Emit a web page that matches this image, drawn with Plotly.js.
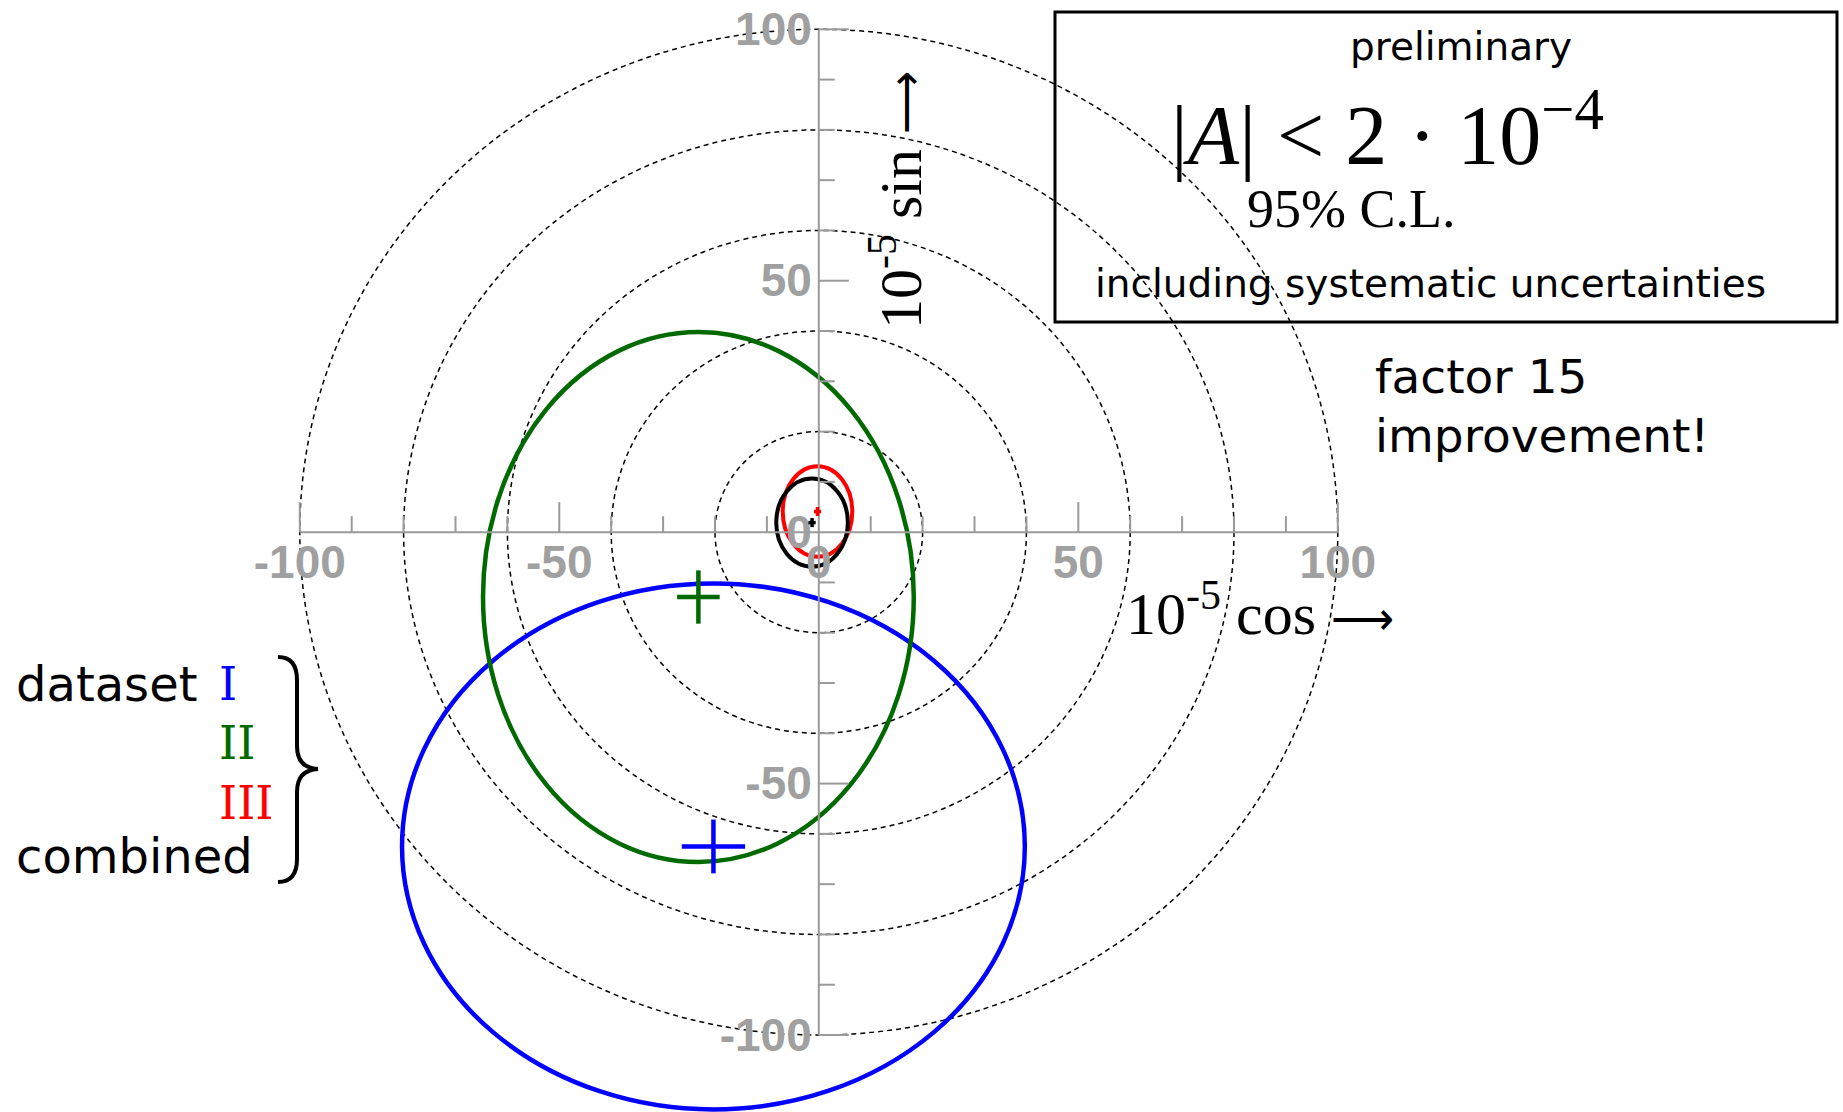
<!DOCTYPE html>
<html>
<head>
<meta charset="utf-8">
<script src="https://cdn.plot.ly/plotly-3.0.1.min.js"></script>
<style>
html,body{margin:0;padding:0;background:#ffffff;}
#chart{width:1843px;height:1112px;}
</style>
</head>
<body>
<div id="chart"></div>
<script>
// ---------------- data ----------------
const datasets   = ['I', 'II', 'III', 'combined'];
const setColors  = ['#0000ff', '#006a00', '#ff0000', '#000000'];
// centre of each 95% C.L. region (units of 1e-5)
const centerCos  = [-20.3, -23.2, -0.25, -1.3];
const centerSin  = [-62.5, -12.9, 4.1, 1.9];
// semi-axes of each region
const semiCos    = [60.0, 41.5, 6.7, 6.9];
const semiSin    = [52.3, 52.7, 9.0, 8.75];
// half-lengths of the cross marks
const crossCos   = [6.1, 4.1, 0.7, 0.7];
const crossSin   = [5.35, 5.3, 0.9, 0.9];
// reference circles and axis ticks
const circleRadii = [20, 40, 60, 80, 100];
const tickVals    = [-100, -90, -80, -70, -60, -50, -40, -30, -20, -10, 10, 20, 30, 40, 50, 60, 70, 80, 90, 100];
const majorTicks  = [-100, -50, 50, 100];
const labelVals   = [-100, -50, 0, 50, 100];
const labelText   = ['-100', '-50', '0', '50', '100'];

// ---------------- layout geometry ----------------
const W = 1843, H = 1112;
const X0PX = 818.8, XPPU = 5.19;     // pixel of cos=0, pixels per unit
const Y0PX = 532.15, YPPU = 5.0285;  // pixel of sin=0, pixels per unit
const xRange = [-X0PX / XPPU, (W - X0PX) / XPPU];
const yRange = [(Y0PX - H) / YPPU, Y0PX / YPPU];
const px = v => v / W;
const py = v => 1 - v / H;

const gray = '#9a9a9a';
const labelGray = '#a0a0a0';

const traces = [];

// axis lines
traces.push({
  type: 'scatter', mode: 'lines', hoverinfo: 'skip', showlegend: false,
  x: [-100, 100, null, 0, 0], y: [0, 0, null, -100, 100],
  line: {color: gray, width: 2}
});

// ticks
const tx = [], ty = [];
tickVals.forEach(v => {
  const len = majorTicks.includes(v) ? 30 : 16;
  tx.push(v, v, null); ty.push(0, len / YPPU, null);       // on cos axis (upwards)
  tx.push(0, len / XPPU, null); ty.push(v, v, null);       // on sin axis (rightwards)
});
traces.push({
  type: 'scatter', mode: 'lines', hoverinfo: 'skip', showlegend: false,
  x: tx, y: ty, line: {color: gray, width: 2}
});

// tick labels
const labelFont = {family: 'Liberation Sans, Arial, sans-serif', size: 46, color: labelGray, weight: 'bold'};
traces.push({
  type: 'scatter', mode: 'text', hoverinfo: 'skip', showlegend: false,
  x: labelVals, y: labelVals.map(() => -34 / YPPU),
  text: labelText, textposition: 'middle center', textfont: labelFont
});
traces.push({
  type: 'scatter', mode: 'text', hoverinfo: 'skip', showlegend: false,
  x: labelVals.map(() => -7 / XPPU), y: labelVals.map(v => v - 4 / YPPU),
  text: labelText, textposition: 'middle left', textfont: labelFont
});

// cross marks at the centres
datasets.forEach((d, i) => {
  const big = i < 2;
  traces.push({
    type: 'scatter', mode: 'markers', name: d, showlegend: false,
    x: [centerCos[i]], y: [centerSin[i]],
    marker: {size: 1, color: setColors[i], opacity: 0},
    error_x: {type: 'data', array: [crossCos[i]], symmetric: true, color: setColors[i], thickness: big ? 4.5 : 3.5, width: 0},
    error_y: {type: 'data', array: [crossSin[i]], symmetric: true, color: setColors[i], thickness: big ? 4.5 : 3.5, width: 0}
  });
});

// shapes
const shapes = [];
circleRadii.forEach(r => {
  shapes.push({
    type: 'circle', xref: 'x', yref: 'y', layer: 'below',
    x0: -r, x1: r, y0: -r, y1: r,
    line: {color: '#000000', width: 1.5, dash: '5px,4px'}
  });
});
datasets.forEach((d, i) => {
  shapes.push({
    type: 'circle', xref: 'x', yref: 'y', layer: 'between',
    x0: centerCos[i] - semiCos[i], x1: centerCos[i] + semiCos[i],
    y0: centerSin[i] - semiSin[i], y1: centerSin[i] + semiSin[i],
    line: {color: setColors[i], width: i < 2 ? 4.5 : 4}
  });
});
// result box
shapes.push({
  type: 'rect', xref: 'paper', yref: 'paper',
  x0: px(1055), x1: px(1837), y0: py(12), y1: py(322),
  line: {color: '#000000', width: 3}, fillcolor: 'rgba(0,0,0,0)'
});
// curly brace
const bracePts = [
  ['M', 278, 657], ['Q', 297, 657, 297, 680], ['L', 297, 746], ['Q', 297, 768, 318, 769],
  ['Q', 297, 770, 297, 792], ['L', 297, 859], ['Q', 297, 882, 278, 882]
];
const bracePath = bracePts.map(s => {
  const c = s[0]; const nums = s.slice(1); const out = [];
  for (let k = 0; k < nums.length; k += 2) out.push(px(nums[k]) + ',' + py(nums[k + 1]));
  return c + out.join(' ');
}).join(' ');
shapes.push({
  type: 'path', xref: 'paper', yref: 'paper', path: bracePath,
  line: {color: '#000000', width: 4}
});

// annotations
const sans = 'DejaVu Sans, Verdana, sans-serif';
const serif = 'Liberation Serif, Times New Roman, serif';
const longArrow = '<span style="font-size:44px">⟶</span>';
function ann(text, x, y, opts) {
  return Object.assign({
    text: text, xref: 'paper', yref: 'paper', x: px(x), y: py(y),
    xanchor: 'center', yanchor: 'middle', showarrow: false
  }, opts || {});
}
const annotations = [
  ann('preliminary', 1461, 47, {font: {family: sans, size: 39, color: '#000'}}),
  ann('|<i>A</i>| &lt; 2 · 10<sup>−4</sup>', 1387, 130, {font: {family: serif, size: 84, color: '#000'}}),
  ann('95% C.L.', 1351, 209, {font: {family: serif, size: 54, color: '#000'}}),
  ann('including systematic uncertainties', 1430, 284, {font: {family: sans, size: 39, color: '#000'}}),
  ann('factor 15', 1373, 376, {xanchor: 'left', font: {family: sans, size: 47, color: '#000'}}),
  ann('improvement!', 1373, 435, {xanchor: 'left', font: {family: sans, size: 47, color: '#000'}}),
  ann('dataset', 14, 684, {xanchor: 'left', font: {family: sans, size: 48, color: '#000'}}),
  ann('combined', 14, 856, {xanchor: 'left', font: {family: sans, size: 48, color: '#000'}}),
  ann('10<sup>-5</sup> cos ' + longArrow, 1124, 609, {xanchor: 'left', font: {family: serif, size: 60, color: '#000'}}),
  ann('10<sup>-5</sup> sin ' + longArrow, 896, 200, {textangle: -90, font: {family: serif, size: 60, color: '#000'}})
];
datasets.slice(0, 3).forEach((d, i) => {
  annotations.push(ann(d, 217, [684, 743, 803][i], {xanchor: 'left', font: {family: 'DejaVu Serif, serif', size: 46, color: setColors[i]}}));
});

const layout = {
  width: W, height: H,
  margin: {l: 0, r: 0, t: 0, b: 0, pad: 0},
  paper_bgcolor: '#ffffff', plot_bgcolor: '#ffffff',
  showlegend: false,
  xaxis: {range: xRange, visible: false, fixedrange: true},
  yaxis: {range: yRange, visible: false, fixedrange: true},
  shapes: shapes,
  annotations: annotations
};

Plotly.newPlot('chart', traces, layout, {staticPlot: true, displayModeBar: false});
</script>
</body>
</html>
